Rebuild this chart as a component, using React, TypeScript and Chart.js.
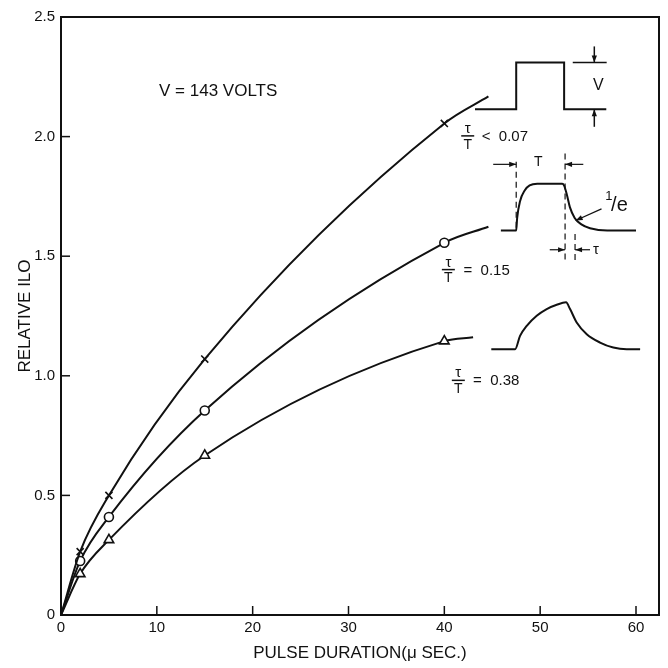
import React, { useEffect, useRef } from "react";
import { Chart, registerables } from "chart.js";

Chart.register(...registerables);

// ---- axis ticks ----
const X_TICKS = [0, 10, 20, 30, 40, 50, 60];
const Y_TICKS = [0, 0.5, 1.0, 1.5, 2.0, 2.5];

// ---- measured points (pulse duration, µs) ----
const PULSE_DURATION = [2, 5, 15, 40];
const ILO_SHORT = [0.265, 0.5, 1.07, 2.055]; // tau/T < 0.07 (x)
const ILO_MID = [0.226, 0.41, 0.855, 1.556]; // tau/T = 0.15 (o)
const ILO_LONG = [0.172, 0.314, 0.667, 1.145]; // tau/T = 0.38 (triangle)

// curve ends (hand-drawn extrapolations)
const CURVE_END_DURATION = [44.6, 44.6, 43.0];
const CURVE_END_ILO = [2.168, 1.623, 1.161];

// ---- inset pulse shapes (in chart units) ----
const SQUARE_T = [43.2, 47.5, 47.5, 52.5, 52.5, 56.9];
const SQUARE_V = [2.114, 2.114, 2.31, 2.31, 2.114, 2.114];

const ROUND_T = [45.9, 47.5, 47.6, 47.9, 48.4, 48.9, 49.7, 52.3, 52.5, 52.8, 53.1, 53.6, 54.3, 55.2, 57.0, 60.0];
const ROUND_V = [1.607, 1.607, 1.66, 1.73, 1.776, 1.796, 1.803, 1.803, 1.795, 1.755, 1.705, 1.66, 1.633, 1.617, 1.607, 1.607];

const SLOW_T = [44.9, 47.38, 47.9, 48.6, 49.64, 50.68, 51.73, 52.7, 53.12, 53.81, 54.86, 56.25, 57.63, 59.03, 60.43];
const SLOW_V = [1.111, 1.111, 1.167, 1.209, 1.251, 1.279, 1.297, 1.307, 1.279, 1.223, 1.174, 1.139, 1.118, 1.111, 1.111];

const FONT = "'Liberation Sans', Arial, sans-serif";
const INK = "#111";

function curve(values: number[], i: number) {
  return [
    { x: 0, y: 0 },
    ...PULSE_DURATION.map((d, k) => ({ x: d, y: values[k] })),
    { x: CURVE_END_DURATION[i], y: CURVE_END_ILO[i] },
  ];
}

function shape(t: number[], v: number[]) {
  return t.map((x, k) => ({ x, y: v[k] }));
}

function arrow(ctx: CanvasRenderingContext2D, x1: number, y1: number, x2: number, y2: number) {
  ctx.beginPath();
  ctx.moveTo(x1, y1);
  ctx.lineTo(x2, y2);
  ctx.stroke();
  const a = Math.atan2(y2 - y1, x2 - x1);
  const L = 7, W = 2.6;
  ctx.beginPath();
  ctx.moveTo(x2, y2);
  ctx.lineTo(x2 - L * Math.cos(a) + W * Math.sin(a), y2 - L * Math.sin(a) - W * Math.cos(a));
  ctx.lineTo(x2 - L * Math.cos(a) - W * Math.sin(a), y2 - L * Math.sin(a) + W * Math.cos(a));
  ctx.closePath();
  ctx.fill();
}

const framePlugin = {
  id: "frame",
  afterDatasetsDraw(chart: any) {
    const { ctx, chartArea: a, scales } = chart;
    const xs = scales.x, ys = scales.y;
    const X = (v: number) => xs.getPixelForValue(v);
    const Y = (v: number) => ys.getPixelForValue(v);
    ctx.save();
    ctx.strokeStyle = INK;
    ctx.fillStyle = INK;
    // frame
    ctx.lineWidth = 2;
    ctx.strokeRect(a.left, a.top, a.right - a.left, a.bottom - a.top);
    // inner ticks
    ctx.lineWidth = 1.5;
    X_TICKS.forEach((t) => {
      const p = X(t);
      ctx.beginPath();
      ctx.moveTo(p, a.bottom);
      ctx.lineTo(p, a.bottom - 9);
      ctx.stroke();
    });
    Y_TICKS.forEach((t) => {
      const p = Y(t);
      ctx.beginPath();
      ctx.moveTo(a.left, p);
      ctx.lineTo(a.left + 9, p);
      ctx.stroke();
    });

    // ---- annotations ----
    ctx.textAlign = "center";
    ctx.textBaseline = "middle";
    ctx.font = `17px ${FONT}`;
    ctx.fillText("V = 143 VOLTS", X(16.4), Y(2.189));

    // fractions
    const frac = (fx: number, fy: number, rest: string, rx: number) => {
      const cx = X(fx), cy = Y(fy);
      ctx.font = `15px ${FONT}`;
      ctx.textAlign = "center";
      ctx.fillText("τ", cx, cy - 7);
      ctx.font = `14px ${FONT}`;
      ctx.fillText("T", cx, cy + 9);
      ctx.lineWidth = 1.5;
      ctx.beginPath();
      ctx.moveTo(cx - 6.5, cy);
      ctx.lineTo(cx + 6.5, cy);
      ctx.stroke();
      ctx.font = `15px ${FONT}`;
      ctx.textAlign = "left";
      ctx.fillText(rest, X(rx), cy + 1);
    };
    frac(42.44, 2.003, "<  0.07", 43.9);
    frac(40.42, 1.444, "=  0.15", 42.0);
    frac(41.46, 0.981, "=  0.38", 43.0);

    // V dimension
    ctx.lineWidth = 1.5;
    ctx.beginPath();
    ctx.moveTo(X(53.4), Y(2.31));
    ctx.lineTo(X(56.94), Y(2.31));
    ctx.stroke();
    arrow(ctx, X(55.65), Y(2.377), X(55.65), Y(2.31));
    arrow(ctx, X(55.65), Y(2.041), X(55.65), Y(2.114));
    ctx.font = `16px ${FONT}`;
    ctx.textAlign = "center";
    ctx.fillText("V", X(56.07), Y(2.215));

    // dashed guides for T and tau
    ctx.setLineDash([6, 4]);
    ctx.lineWidth = 1.2;
    const dash = (x: number, y1: number, y2: number) => {
      ctx.beginPath();
      ctx.moveTo(X(x), Y(y1));
      ctx.lineTo(X(x), Y(y2));
      ctx.stroke();
    };
    dash(47.5, 1.895, 1.614);
    dash(52.6, 1.929, 1.48);
    dash(53.64, 1.593, 1.48);
    ctx.setLineDash([]);
    arrow(ctx, X(45.1), Y(1.884), X(47.5), Y(1.884));
    arrow(ctx, X(54.5), Y(1.884), X(52.6), Y(1.884));
    ctx.font = `14px ${FONT}`;
    ctx.fillText("T", X(49.8), Y(1.895));
    arrow(ctx, X(51.0), Y(1.527), X(52.6), Y(1.527));
    arrow(ctx, X(55.2), Y(1.527), X(53.64), Y(1.527));
    ctx.textAlign = "left";
    ctx.font = `15px ${FONT}`;
    ctx.fillText("τ", X(55.5), Y(1.527));
    // 1/e
    arrow(ctx, X(56.4), Y(1.698), X(53.7), Y(1.649));
    ctx.font = `13px ${FONT}`;
    ctx.fillText("1", X(56.8), Y(1.75));
    ctx.font = `20px ${FONT}`;
    ctx.fillText("/e", X(57.4), Y(1.712));
    ctx.restore();
  },
};

export default function App() {
  const ref = useRef<HTMLCanvasElement>(null);
  useEffect(() => {
    const canvas = ref.current!;
    const mk = (data: any[], style: string, r: number) => ({
      data,
      showLine: true,
      borderColor: INK,
      borderWidth: 2,
      backgroundColor: "#fff",
      pointBorderColor: INK,
      pointBackgroundColor: "#fff",
      pointBorderWidth: 1.6,
      pointStyle: style,
      pointRadius: data.map((_: any, k: number) => (k === 0 || k === data.length - 1 ? 0 : r)),
      cubicInterpolationMode: "monotone" as const,
      fill: false,
    });
    const mkShape = (data: any[], smooth: boolean) => ({
      data,
      showLine: true,
      borderColor: INK,
      borderWidth: 2,
      pointRadius: 0,
      tension: 0,
      cubicInterpolationMode: smooth ? ("monotone" as const) : ("default" as const),
      fill: false,
    });
    const chart = new Chart(canvas, {
      type: "scatter",
      data: {
        datasets: [
          mk(curve(ILO_SHORT, 0), "crossRot", 5),
          mk(curve(ILO_MID, 1), "circle", 4.5),
          mk(curve(ILO_LONG, 2), "triangle", 5.5),
          mkShape(shape(SQUARE_T, SQUARE_V), false),
          mkShape(shape(ROUND_T, ROUND_V), true),
          mkShape(shape(SLOW_T, SLOW_V), true),
        ] as any,
      },
      options: {
        animation: false,
        responsive: false,
        layout: { padding: { top: 17, right: 9, left: 0, bottom: 0 } },
        plugins: { legend: { display: false }, tooltip: { enabled: false } },
        scales: {
          x: {
            type: "linear",
            min: 0,
            max: 62.4,
            afterBuildTicks: (s: any) => {
              s.ticks = X_TICKS.map((v) => ({ value: v }));
            },
            afterFit: (s: any) => {
              s.height = 53;
            },
            ticks: {
              callback: (v: any) => String(v),
              font: { family: FONT, size: 15 },
              color: INK,
              padding: 4,
              maxRotation: 0,
              autoSkip: false,
            },
            grid: { display: false, drawTicks: false },
            border: { display: false },
            title: {
              display: true,
              text: "PULSE DURATION(μ SEC.)",
              font: { family: FONT, size: 17 },
              color: INK,
              padding: { top: 0, bottom: 4 },
            },
          },
          y: {
            type: "linear",
            min: 0,
            max: 2.5,
            afterBuildTicks: (s: any) => {
              s.ticks = Y_TICKS.map((v) => ({ value: v }));
            },
            afterFit: (s: any) => {
              s.width = 61;
            },
            ticks: {
              callback: (v: any) => (v === 0 ? "0" : Number(v).toFixed(1)),
              font: { family: FONT, size: 15 },
              color: INK,
              padding: 6,
              autoSkip: false,
            },
            grid: { display: false, drawTicks: false },
            border: { display: false },
            title: {
              display: true,
              text: "RELATIVE ILO",
              font: { family: FONT, size: 17 },
              color: INK,
              padding: { top: 15, bottom: 0 },
            },
          },
        },
      },
      plugins: [framePlugin],
    });
    return () => chart.destroy();
  }, []);
  return (
    <div style={{ position: "fixed", left: 0, top: 0, width: 668, height: 668, background: "#fff" }}>
      <canvas ref={ref} width={668} height={668} style={{ width: 668, height: 668, display: "block" }} />
    </div>
  );
}
